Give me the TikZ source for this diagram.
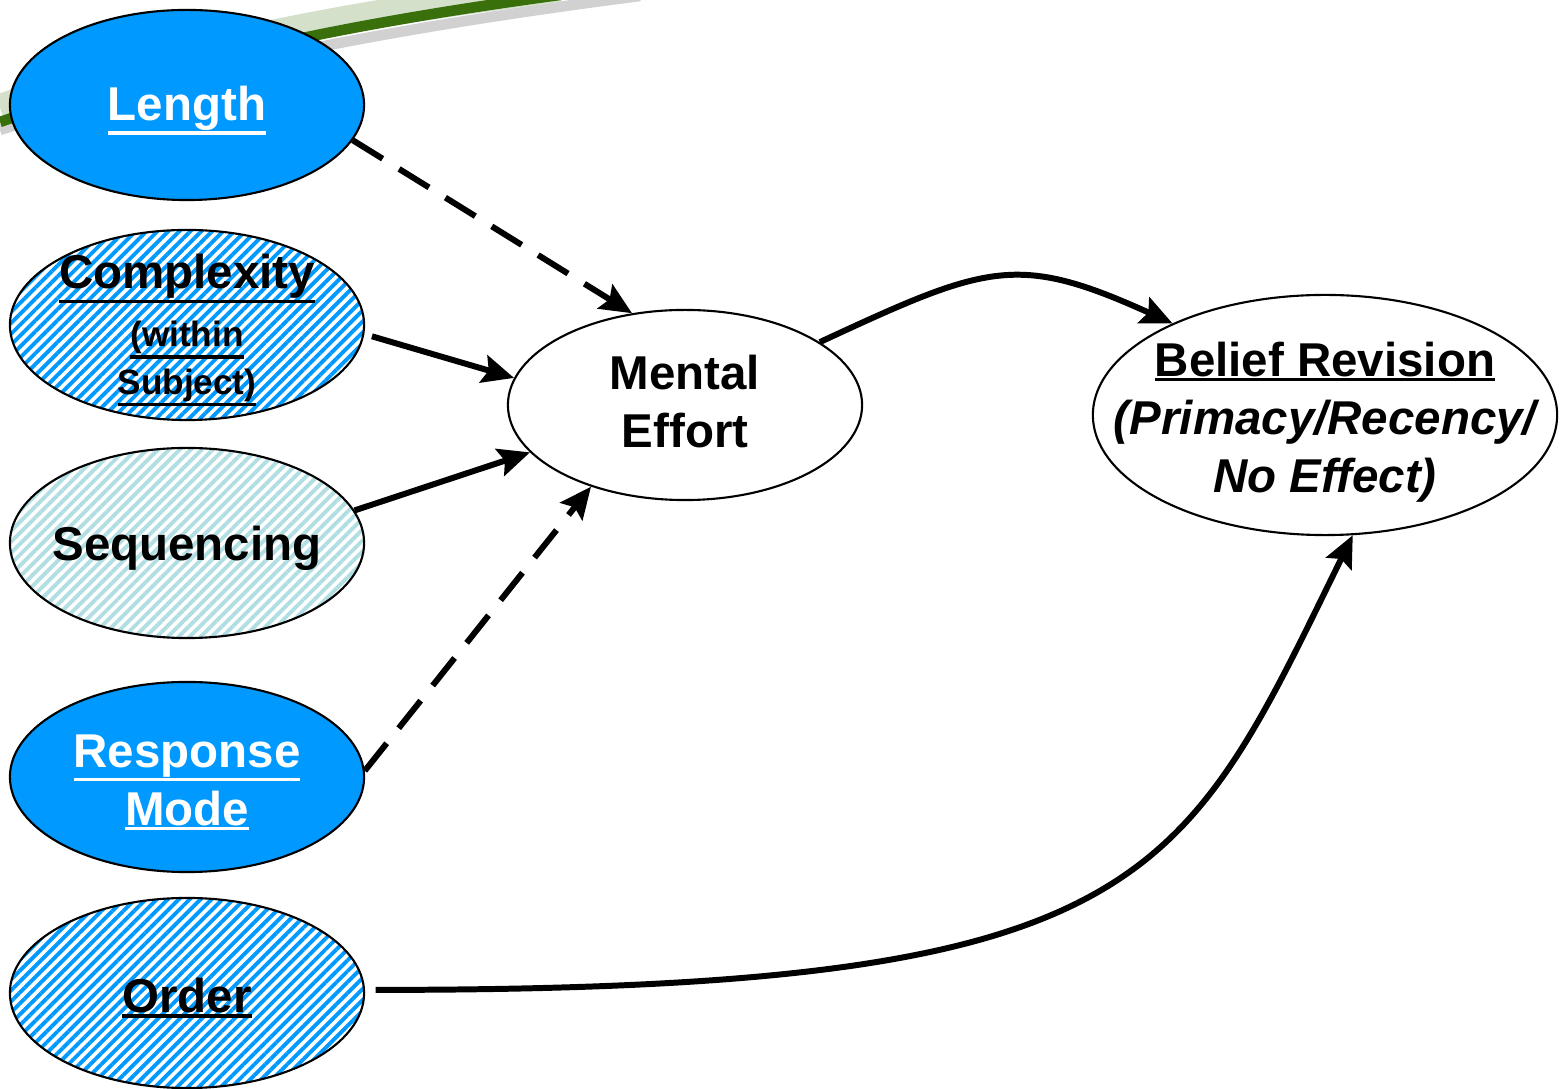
\documentclass[tikz,border=0pt]{standalone}
\usepackage{fontspec}
\setmainfont{Liberation Sans}
\usepackage{tikz}
\usetikzlibrary{arrows.meta, patterns.meta, shapes.geometric}
\definecolor{brightblue}{RGB}{0,153,255}
\definecolor{paleteal}{RGB}{176,222,226}
\definecolor{swoosh}{RGB}{58,112,12}
\newcommand{\ulbold}[1]{\setbox0\hbox{#1}\rlap{\rule[-\dimexpr\dp0+1.3pt\relax]{\wd0}{1pt}}\box0}

\tikzset{
  factor/.style={ellipse, draw, line width=0.6pt, fill=white, inner sep=0pt,
    minimum width=3.54cm, minimum height=1.9cm},
  solidfactor/.style={factor, fill=brightblue},
  stripefactor/.style={factor, fill=none,
    pattern={Lines[angle=45, distance=2.2pt, line width=1.1pt]}, pattern color=#1},
  blurb/.style={align=center, inner sep=0pt, yshift=-1.5pt,
    font=\fontsize{13.5}{16.5}\selectfont\bfseries},
  whiteblurb/.style={blurb, text=white},
  link/.style={line width=1.7pt, -{Stealth[length=9pt, width=8pt, inset=1.5pt]}},
  dashlink/.style={link, dash pattern=on 10pt off 5.5pt},
}

\begin{document}
\begin{tikzpicture}[x=0.01cm, y=-0.01cm]
\useasboundingbox (0,0) rectangle (1564,1089);

% slide decoration
\draw[line width=3pt, black!18] (0,130) .. controls (160,78) and (330,36) .. (640,-4);
\draw[line width=8pt, swoosh!22] (0,108) .. controls (150,58) and (300,20) .. (560,-12);
\draw[line width=3pt, swoosh] (0,122) .. controls (150,70) and (300,30) .. (560,-5);

% causes
\node[solidfactor, label={[whiteblurb]center:{\ulbold{Length}}}] (len) at (187,105) {};
\node[stripefactor=brightblue, label={[blurb]center:{\ulbold{Complexity}\\
  \fontsize{10}{13.5}\selectfont\ulbold{(within}\\[-3pt]\fontsize{10}{13.5}\selectfont\ulbold{Subject)}}}] (cpx) at (187,325) {};
\node[stripefactor=paleteal, label={[blurb]center:Sequencing}] (seq) at (187,543) {};
\node[solidfactor, label={[whiteblurb]center:{\ulbold{Response}\\\ulbold{Mode}}}] (resp) at (187,777) {};
\node[stripefactor=brightblue, label={[blurb]center:{\ulbold{Order}}}] (ord) at (187,993) {};

% mediator and outcome
\node[factor, label={[blurb, yshift=2.5pt]center:{Mental\\Effort}}] (ment) at (685,405) {};
\node[factor, minimum width=4.64cm, minimum height=2.4cm,
  label={[blurb, yshift=-0.5pt]center:{\ulbold{Belief Revision}\\\itshape(Primacy/Recency/\\\itshape No Effect)}}] (bel) at (1325,415) {};

\draw[dashlink] (len.-12) -- (ment.120);
\draw[link, shorten <=2pt] (cpx.-3) -- (ment.171);
\draw[link] (seq.11) -- (ment.197);
\draw[dashlink] (resp.2) -- (ment.221);
\draw[link] (ment.25) .. controls (988,264) and (1017,253) .. (bel.149);
\draw[link, shorten <=3pt] (ord.1.5) .. controls (1150,990) and (1180,887) .. (bel.-77);
\end{tikzpicture}
\end{document}
